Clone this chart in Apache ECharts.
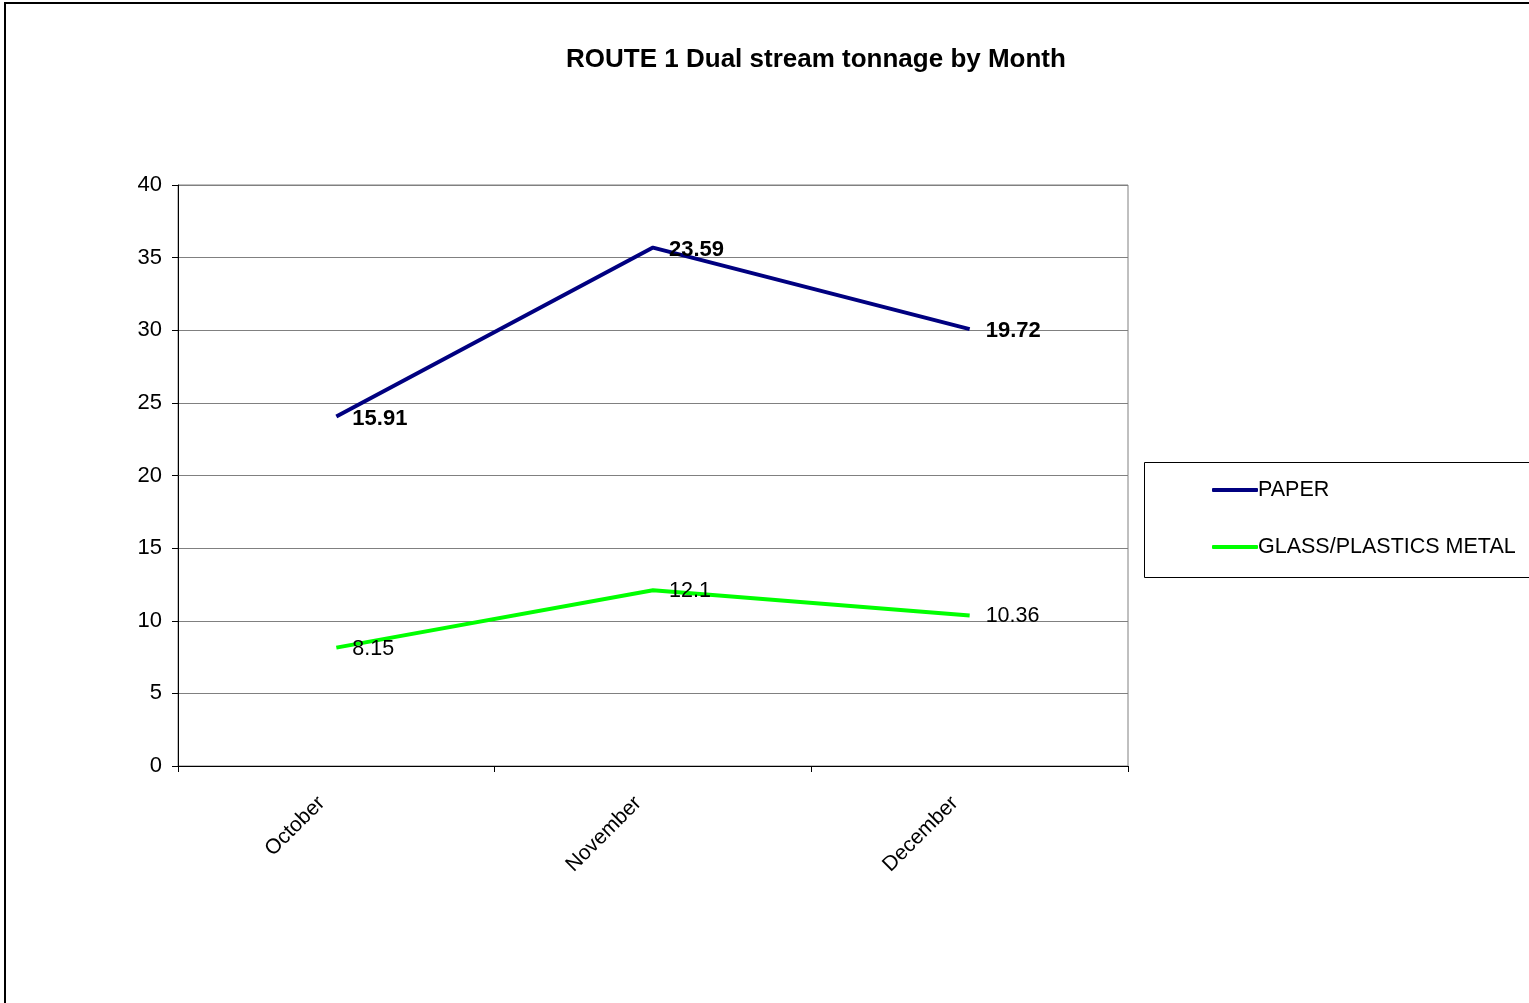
<!DOCTYPE html>
<html>
<head>
<meta charset="utf-8">
<script src="https://cdn.jsdelivr.net/npm/echarts@6/dist/echarts.min.js"></script>
<style>
  html, body { margin: 0; padding: 0; background: #fff; }
  #frame { position: absolute; left: 4px; top: 2px; width: 1600px; height: 1100px; border-left: 2px solid #000; border-top: 2px solid #000; box-sizing: border-box; }
  #chart { position: absolute; left: 0; top: 0; width: 1529px; height: 1003px; }
</style>
</head>
<body>
<div id="frame"></div>
<div id="chart"></div>
<script>
// data
const months = ["October", "November", "December"];
const paper = [15.91, 23.59, 19.72];
const glass = [8.15, 12.1, 10.36];
const yTicks = [0, 5, 10, 15, 20, 25, 30, 35, 40];

const font = "Liberation Sans, Arial, sans-serif";

const chart = echarts.init(document.getElementById("chart"));
const option = {
    animation: false,
    title: {
        text: "ROUTE 1 Dual stream tonnage by Month",
        left: 811,
        textAlign: "center",
        top: 42,
        textStyle: { fontFamily: font, fontSize: 26, fontWeight: "bold", color: "#000" },
    },
    grid: {
        left: 178, right: 1529 - 1128, top: 185, bottom: 1003 - 766,
        show: true, borderColor: "#808080", borderWidth: 1,
    },
    legend: {
        orient: "vertical",
        left: 1207, top: 474,
        data: ["PAPER", "GLASS/PLASTICS METAL"],
        itemWidth: 46, itemHeight: 4, itemGap: 35,
        icon: "roundRect",
        textStyle: { fontFamily: font, fontSize: 21.5, color: "#000", padding: [0, 0, 0, -5] },
    },
    graphic: [{
        type: "rect",
        shape: { x: 1144.5, y: 462.5, width: 420, height: 115 },
        style: { fill: "none", stroke: "#000", lineWidth: 1 },
        z: -1,
    }],
    xAxis: {
        type: "category",
        data: months,
        boundaryGap: true,
        axisLine: { lineStyle: { color: "#000", width: 1 } },
        axisTick: { show: true, length: 6, inside: false, lineStyle: { color: "#000" } },
        axisLabel: {
            rotate: 45, margin: 19, padding: [0, 21, 0, 0],
            fontFamily: font, fontSize: 21, color: "#000",
        },
    },
    yAxis: {
        type: "value",
        min: yTicks[0], max: yTicks[yTicks.length - 1], interval: 5,
        axisLine: { show: true, lineStyle: { color: "#000" } },
        axisTick: { show: true, length: 6, lineStyle: { color: "#000" } },
        axisLabel: { margin: 16, fontFamily: font, fontSize: 22, color: "#000" },
        splitLine: { show: true, lineStyle: { color: "#808080", width: 1 } },
    },
    series: [
        {
            name: "GLASS/PLASTICS METAL",
            type: "line",
            stack: "total",
            data: glass,
            symbol: "circle",
            symbolSize: 0,
            showSymbol: true,
            lineStyle: { color: "#00ff00", width: 4 },
            itemStyle: { color: "#00ff00" },
            label: {
                show: true, position: "right", distance: 16, offset: [0, 1],
                fontFamily: font, fontSize: 21.5, color: "#000",
            },
        },
        {
            name: "PAPER",
            type: "line",
            stack: "total",
            data: paper,
            symbol: "circle",
            symbolSize: 0,
            showSymbol: true,
            lineStyle: { color: "#000080", width: 4 },
            itemStyle: { color: "#000080" },
            label: {
                show: true, position: "right", distance: 16, offset: [0, 2],
                fontFamily: font, fontSize: 22, fontWeight: "bold", color: "#000",
            },
        },
    ],
};
chart.setOption(option);
</script>
</body>
</html>
